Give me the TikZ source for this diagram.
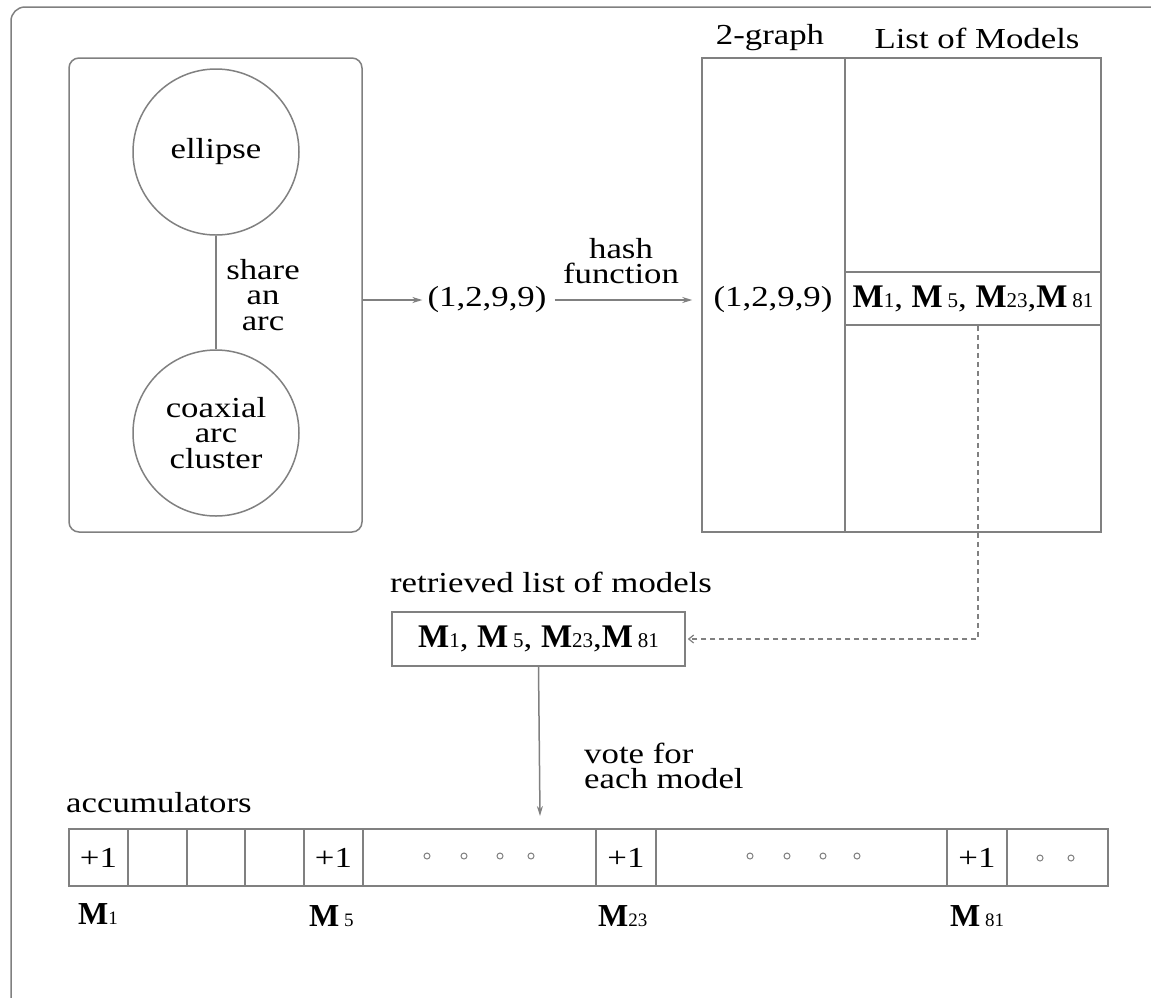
\documentclass[tikz,border=0pt]{standalone}
\usepackage{fontspec}
\setmainfont{Liberation Serif}[FakeStretch=1.2]
\newfontfamily\mfont{Liberation Serif}
\usetikzlibrary{arrows.meta}
\definecolor{ln}{gray}{0.5}
\newcommand\MM[2][]{{\mfont\bfseries\fontsize{33}{33}\selectfont M}#1{\mfont\fontsize{21}{21}\selectfont #2}}
\newcommand\ML[2][]{{\mfont\bfseries\fontsize{32}{32}\selectfont M}#1{\mfont\fontsize{19}{19}\selectfont #2}}
\tikzset{
  lnk/.style={ln, line width=1.5pt},
  arr/.style={ln, line width=1.5pt, -{Stealth[length=10pt,width=6pt]}},
  box/.style={draw=ln, line width=1.5pt, inner sep=0pt},
  cell/.style={draw=ln, line width=1.5pt, inner sep=0pt, minimum height=57pt},
  dot/.style={circle, draw=ln, line width=1pt, inner sep=0pt, minimum size=6pt},
  lbl/.style={inner sep=0pt, align=center}
}
\begin{document}
\begin{tikzpicture}[x=1pt,y=-1pt, font=\fontsize{29}{25.5}\selectfont]
\useasboundingbox (0,0) rectangle (1151,997);
\clip (0,0) rectangle (1151,997);
\draw[ln, line width=1.5pt, rounded corners=14pt] (11,7) rectangle (1180,1012);

% left group
\node[box, rounded corners=10pt, minimum width=293pt, minimum height=474pt] (grp) at (215.5,295) {};
\node[box, circle, minimum size=166pt, align=center] (ell) at (216,152) {ellipse};
\node[box, circle, minimum size=166pt, align=center] (coax) at (216,433) {coaxial\\arc\\cluster};
\draw[lnk] (ell) -- (coax);
\node[lbl] (share) at (263,295) {share\\an\\arc};

% tuple and hash
\node[lbl] (tup) at (487,300) {(1,2,9,9)};
\draw[arr] (grp.east |- tup) -- ([xshift=-5pt]tup.west);
\node[lbl] (hash) at (621,261) {hash\\function};

% table
\node[box, minimum width=143pt, minimum height=474pt] (col1) at (773.5,295) {};
\node[box, minimum width=256pt, minimum height=474pt] (col2) at (973,295) {};
\node[box, minimum width=256pt, minimum height=53pt] (row) at (973,298.5) {\MM{1}, \MM[\,]{5}, \MM{23},\MM[\,]{81}};
\node[lbl] (tup2) at (773,300) {(1,2,9,9)};
\node[lbl] (h1) at (770,38) {2-graph};
\node[lbl] (h2) at (977,38) {List of Models};
\draw[arr] ([xshift=8pt]tup.east) -- ([xshift=-9pt]col1.west |- tup);

% retrieved
\node[lbl] (retl) at (551,582) {retrieved list of models};
\node[box, minimum width=293pt, minimum height=54pt] (ret) at (538.5,639) {\MM{1}, \MM[\,]{5}, \MM{23},\MM[\,]{81}};
\draw[ln, line width=1.2pt, dashed, dash pattern=on 5pt off 4pt, -{Straight Barb[length=5pt,width=8pt]}] ([xshift=5pt]row.south) |- ([xshift=2pt]ret.east);

% vote
\coordinate (votetip) at (540,816);
\draw[arr] (ret.south) -- (votetip);
\node[lbl, align=left, anchor=west] (vote) at (584,766) {vote for\\each model};

% accumulators
\node[lbl, anchor=west] (accl) at (66,803) {accumulators};
\node[cell, minimum width=59pt] (c1) at (98.5,857.5) {+1};
\node[cell, minimum width=59pt] (c2) at (157.5,857.5) {};
\node[cell, minimum width=58pt] (c3) at (216,857.5) {};
\node[cell, minimum width=59pt] (c4) at (274.5,857.5) {};
\node[cell, minimum width=59pt] (c5) at (333.5,857.5) {+1};
\node[cell, minimum width=233pt] (c6) at (479.5,857.5) {};
\node[cell, minimum width=60pt] (c7) at (626,857.5) {+1};
\node[cell, minimum width=291pt] (c8) at (801.5,857.5) {};
\node[cell, minimum width=60pt] (c9) at (977,857.5) {+1};
\node[cell, minimum width=101pt] (c10) at (1057.5,857.5) {};
\foreach \x [count=\i] in {427,464,500,531} \node[dot] (da\i) at (\x,856) {};
\foreach \x [count=\i] in {750,787,823,857} \node[dot] (db\i) at (\x,856) {};
\foreach \x [count=\i] in {1040,1071} \node[dot] (dc\i) at (\x,858) {};

\node[lbl, anchor=west] (m1) at (78,914) {\ML{1}};
\node[lbl, anchor=west] (m5) at (309,916) {\ML[\,]{5}};
\node[lbl, anchor=west] (m23) at (598,916) {\ML{23}};
\node[lbl, anchor=west] (m81) at (950,916) {\ML[\,]{81}};
\end{tikzpicture}
\end{document}
